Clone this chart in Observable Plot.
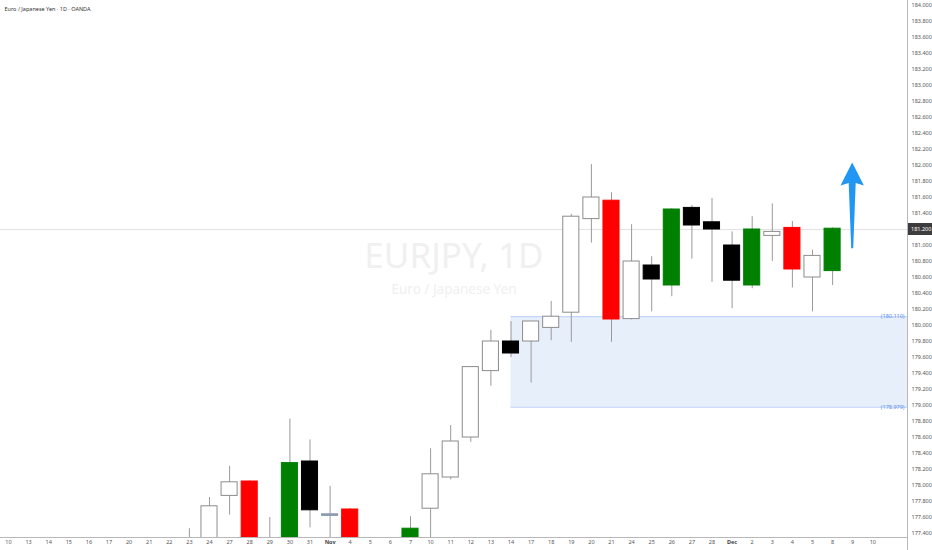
<!DOCTYPE html>
<html>
<head>
<meta charset="utf-8">
<script src="https://cdn.jsdelivr.net/npm/d3@7"></script>
<script src="https://cdn.jsdelivr.net/npm/@observablehq/plot@0.6"></script>
<style>
  html, body { margin: 0; padding: 0; background: #fff; }
  #chart { width: 932px; height: 550px; overflow: hidden; }
</style>
</head>
<body>
<div id="chart"></div>
<script>
// ---- Data ----
const title = "Euro / Japanese Yen · 1D · OANDA";
const watermark = "EURJPY, 1D";
const watermarkSub = "Euro / Japanese Yen";

// Trading-day labels along the time axis (Oct 10 2025 .. Dec 10 2025)
const dates = ["10","13","14","15","16","17","20","21","22","23","24","27","28","29","30","31",
  "Nov","4","5","6","7","10","11","12","13","14","17","18","19","20","21","24","25","26","27","28",
  "Dec","2","3","4","5","8","9","10"];

// OHLC per trading day (null = candle not visible in the picture)
const open  = [null,null,null,null,null,null,null,null,null,177.10,177.15,177.87,178.05,177.20,177.25,178.30,
  177.64,177.70,null,null,177.20,177.71,178.10,178.60,179.43,179.80,179.80,179.97,180.16,181.33,181.56,180.08,180.75,180.50,181.47,181.29,
  181.00,180.50,181.12,181.22,180.60,180.68,null,null];
const high  = [null,null,null,null,null,null,null,null,null,177.46,177.85,178.24,178.06,177.60,178.83,178.57,
  177.99,177.71,null,null,177.61,178.46,178.75,179.48,179.94,180.05,180.03,180.30,181.39,182.01,181.66,181.26,180.86,181.46,181.50,181.59,
  181.17,181.36,181.52,181.30,180.94,181.22,null,null];
const low   = [null,null,null,null,null,null,null,null,null,176.95,177.05,177.63,177.10,176.95,177.15,177.47,
  177.20,177.10,null,null,177.10,177.30,178.07,178.54,179.24,179.60,179.28,179.81,179.79,181.03,179.79,180.07,180.17,180.36,180.83,180.54,
  180.21,180.46,180.80,180.47,180.17,180.50,null,null];
const close = [null,null,null,null,null,null,null,null,null,177.25,177.74,178.04,177.20,177.30,178.28,177.69,
  177.62,177.20,null,null,177.46,178.14,178.55,179.48,179.80,179.65,180.05,180.11,181.36,181.60,180.075,180.80,180.575,181.45,181.25,181.20,
  180.56,181.20,181.17,180.70,180.87,181.21,null,null];
// candle style category: up (hollow), down (black), red, green, doji
const kind  = [null,null,null,null,null,null,null,null,null,"up","up","up","red","up","green","down",
  "doji","red",null,null,"green","up","up","up","up","down","up","up","up","up","red","up","down","green","down","down",
  "down","green","up","red","up","green",null,null];

// Highlighted demand zone (starts at Nov 14)
const zoneStartIndex = 25;
const zoneTop = 180.110;
const zoneBottom = 178.979;
// Current price line
const currentPrice = 181.200;
// Projection arrow (drawn at Dec 9)
const arrowDay = 42;
const arrowFrom = 180.96;
const arrowTo = 182.03;

// Price axis ticks
const yTickStart = 177.4, yTickStep = 0.2, yTickCount = 34;
const yTicks = d3.range(yTickCount).map(k => +(yTickStart + k * yTickStep).toFixed(3))
  .filter(v => Math.abs(v - currentPrice) > 1e-6);

// ---- Build table ----
const candles = dates.map((d, i) => ({i, date: d, open: open[i], high: high[i], low: low[i], close: close[i], kind: kind[i]}))
  .filter(d => d.kind != null);

const fillOf = {up: "#ffffff", down: "#000000", red: "#ff0000", green: "#008000", doji: "#8a9bb0"};
const strokeOf = {up: "#8c8c8c", down: "#000000", red: "#ff0000", green: "#008000", doji: "#8a9bb0"};

const W = 932, H = 550, mR = 25, mB = 13;
const pxPerDay = 20.1, firstX = 8;
const xDomain = [-firstX / pxPerDay, (W - mR - firstX) / pxPerDay];
const yDomain = [177.35, 184.0625];

const font = "'Noto Sans', Roboto, sans-serif";

function priceLabel(index, scales, values, dims) {
  const g = d3.create("svg:g");
  const y = scales.y(currentPrice);
  const x0 = dims.width - dims.marginRight + 1;
  g.append("rect").attr("x", x0).attr("y", y - 6).attr("width", dims.marginRight - 1).attr("height", 12).attr("fill", "#3d3d3d");
  g.append("text").attr("x", x0 + 3).attr("y", y).attr("dy", "0.35em").attr("fill", "#ffffff")
    .attr("text-anchor", "start")
    .attr("font-size", 5.5).attr("font-family", font).text(currentPrice.toFixed(3));
  return g.node();
}

function arrowMark(index, scales) {
  const cx = scales.x(arrowDay);
  const yt = scales.y(arrowTo), yb = scales.y(arrowFrom);
  const head = 23, hw = 11.7, sw = 3.5, bw = 1;
  const yh = yt + head;
  const pts = [[cx, yt], [cx + hw, yh], [cx + sw, yh - 2.5], [cx + bw, yb], [cx - bw, yb], [cx - sw, yh - 2.5], [cx - hw, yh]];
  const g = d3.create("svg:g");
  g.append("polygon").attr("points", pts.map(p => p.join(",")).join(" ")).attr("fill", "#2196f3");
  return g.node();
}

function axisLines(index, scales, values, dims) {
  const g = d3.create("svg:g");
  const xr = dims.width - dims.marginRight + 0.5;
  const yb = dims.height - dims.marginBottom + 0.5;
  g.append("line").attr("x1", 0).attr("x2", xr).attr("y1", yb).attr("y2", yb).attr("stroke", "#b8b8b8");
  g.append("line").attr("x1", xr).attr("x2", xr).attr("y1", 0).attr("y2", dims.height).attr("stroke", "#b8b8b8");
  return g.node();
}

const chart = Plot.plot({
  width: W, height: H,
  marginLeft: 0, marginRight: mR, marginTop: 0, marginBottom: mB,
  style: {fontFamily: font, background: "#fff", overflow: "visible"},
  x: {type: "linear", domain: xDomain, axis: null},
  y: {domain: yDomain, axis: null},
  marks: [
    // watermark
    Plot.text([watermark], {frameAnchor: "middle", dy: -12, fontSize: 35, fill: "#f0f0f0", fontFamily: font}),
    Plot.text([watermarkSub], {frameAnchor: "middle", dy: 21, fontSize: 13.5, fill: "#f0f0f0", fontFamily: font}),
    // demand zone
    Plot.rect([{x1: zoneStartIndex, x2: xDomain[1], y1: zoneBottom, y2: zoneTop}], {x1: "x1", x2: "x2", y1: "y1", y2: "y2", fill: "#e7effb"}),
    Plot.ruleY([zoneTop, zoneBottom], {x1: zoneStartIndex, x2: xDomain[1], stroke: "#b9cff3", strokeWidth: 1}),
    Plot.text([zoneTop, zoneBottom], {x: xDomain[1], y: d => d, text: d => `(${d.toFixed(3)})`, textAnchor: "end", dx: -3, fontSize: 5.5, fill: "#5b8ff0"}),
    // current price line
    Plot.ruleY([currentPrice], {stroke: "#e2e2e2"}),
    // wicks
    Plot.ruleX(candles, {x: "i", y1: "low", y2: "high", stroke: "#9a9a9a", strokeWidth: 1, clip: true}),
    // bodies
    Plot.rect(candles, {
      x1: d => d.i - 0.4, x2: d => d.i + 0.4,
      y1: "open", y2: "close",
      fill: d => fillOf[d.kind], stroke: d => strokeOf[d.kind], strokeWidth: 1,
      clip: true
    }),
    axisLines,
    // price axis
    Plot.axisY(yTicks, {anchor: "right", tickSize: 0, tickPadding: 4, tickFormat: d3.format(".3f"), fontSize: 5.5, color: "#555"}),
    priceLabel,
    // time axis labels
    Plot.text(dates.map((d, i) => ({d, i})).filter(o => !/[A-Za-z]/.test(o.d)), {x: "i", text: "d", frameAnchor: "bottom", dy: 6, fontSize: 5.5, fill: "#555"}),
    Plot.text(dates.map((d, i) => ({d, i})).filter(o => /[A-Za-z]/.test(o.d)), {x: "i", text: "d", frameAnchor: "bottom", dy: 6, fontSize: 5.5, fontWeight: "bold", fill: "#444"}),
    // title
    Plot.text([title], {frameAnchor: "top-left", dx: 4, dy: 7, fontSize: 5.5, fill: "#333", textAnchor: "start"}),
    arrowMark
  ]
});
document.getElementById("chart").appendChild(chart);
</script>
</body>
</html>
